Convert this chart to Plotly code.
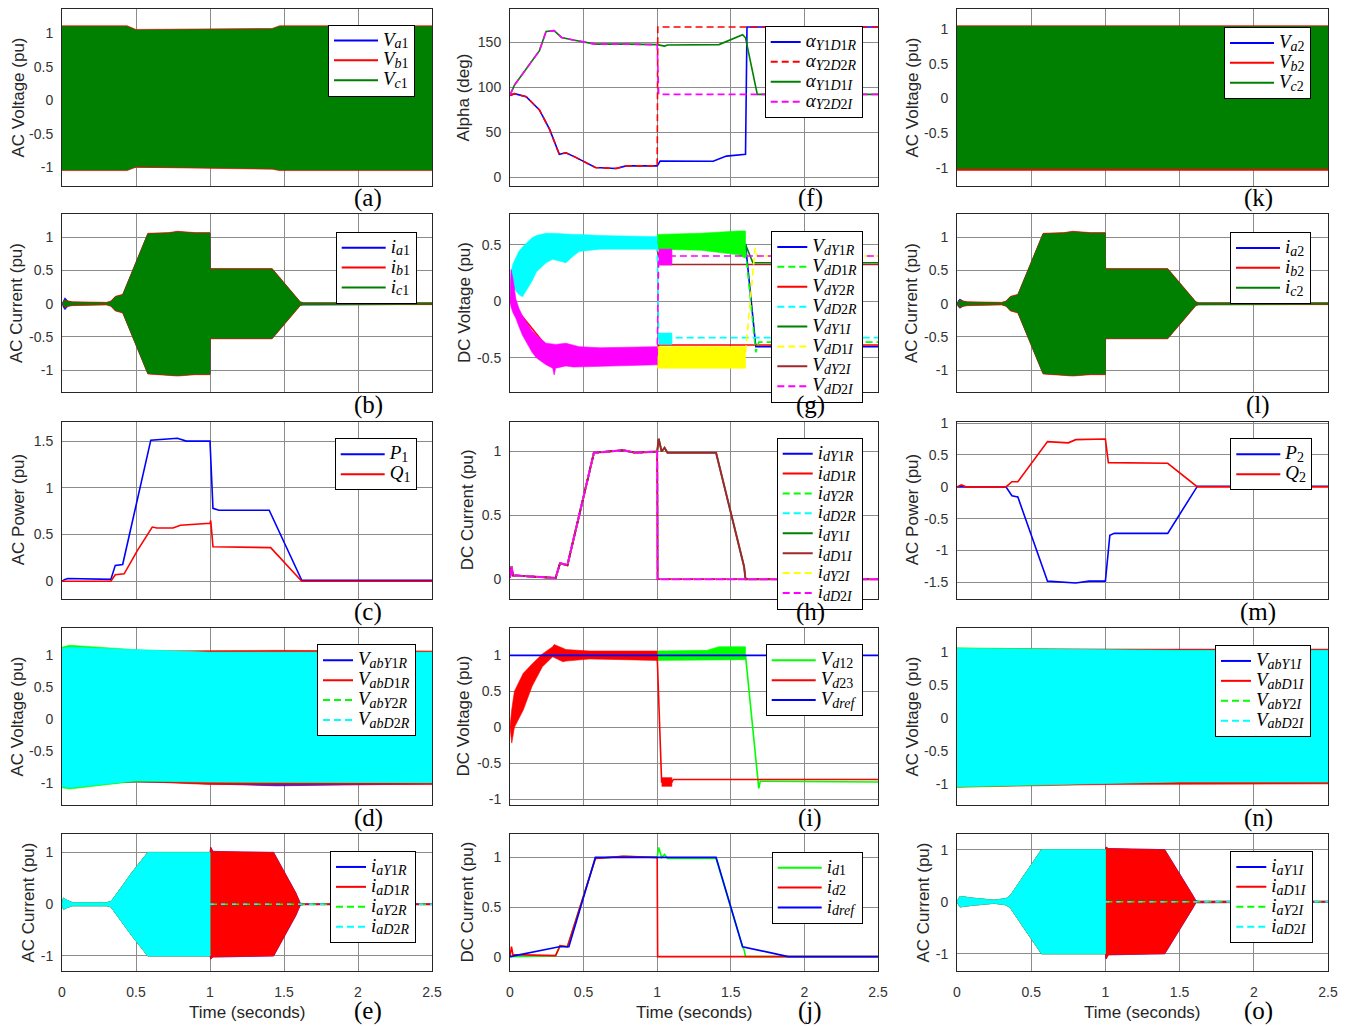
import plotly.graph_objects as go

W, H = 1350, 1026

# ======================= DATA =======================
X_TICKS = [0, 0.5, 1, 1.5, 2, 2.5]
X_TICK_TEXT = ["0", "0.5", "1", "1.5", "2", "2.5"]

# ---- (a) AC voltage bus 1 : envelopes of the fast sinusoids
T_V1 = [0, 0.44, 0.50, 1.00, 1.42, 1.47, 2.50]
VA1_UP = [1.08, 1.08, 1.03, 1.04, 1.05, 1.08, 1.08]
VA1_LO = [-1.02, -1.02, -0.97, -0.99, -1.00, -1.02, -1.02]
VB1_UP = [1.11, 1.11, 1.055, 1.06, 1.07, 1.11, 1.11]
VB1_LO = [-1.05, -1.05, -1.00, -1.02, -1.03, -1.05, -1.05]
VC1_UP = [1.10, 1.10, 1.045, 1.05, 1.06, 1.10, 1.10]
VC1_LO = [-1.04, -1.04, -0.99, -1.01, -1.02, -1.04, -1.04]

# ---- (k) AC voltage bus 2
T_V2 = [0, 1.00, 2.50]
VA2_UP = [1.03, 1.03, 1.03]
VA2_LO = [-1.00, -1.00, -1.00]
VB2_UP = [1.05, 1.05, 1.05]
VB2_LO = [-1.035, -1.035, -1.035]
VC2_UP = [1.04, 1.04, 1.04]
VC2_LO = [-1.01, -1.01, -1.01]

# ---- (b) AC current bus 1
T_I1 = [0, 0.01, 0.02, 0.04, 0.07, 0.30, 0.33, 0.36, 0.41, 0.58, 0.72, 0.78, 0.90, 1.00, 1.001, 1.42, 1.61, 1.63, 2.50]
IA1_UP = [0, 0.06, 0.09, 0.04, 0.02, 0.01, 0.03, 0.10, 0.13, 1.05, 1.06, 1.08, 1.06, 1.06, 0.52, 0.52, 0.02, 0.01, 0.01]
IA1_LO = [0, -0.06, -0.09, -0.04, -0.02, -0.01, -0.03, -0.10, -0.13, -1.05, -1.07, -1.08, -1.06, -1.06, -0.52, -0.52, -0.02, -0.01, -0.01]
IB1_UP = [0, 0.04, 0.06, 0.04, 0.03, 0.02, 0.04, 0.11, 0.14, 1.06, 1.07, 1.09, 1.07, 1.07, 0.53, 0.53, 0.03, 0.015, 0.015]
IB1_LO = [0, -0.04, -0.06, -0.04, -0.03, -0.02, -0.04, -0.11, -0.14, -1.06, -1.08, -1.09, -1.07, -1.07, -0.53, -0.53, -0.03, -0.015, -0.015]
IC1_UP = [0, 0.03, 0.05, 0.03, 0.02, 0.01, 0.03, 0.10, 0.13, 1.05, 1.06, 1.08, 1.06, 1.06, 0.52, 0.52, 0.02, 0.01, 0.01]
IC1_LO = [0, -0.03, -0.05, -0.03, -0.02, -0.01, -0.03, -0.10, -0.13, -1.05, -1.07, -1.08, -1.06, -1.06, -0.52, -0.52, -0.02, -0.01, -0.01]

# ---- (l) AC current bus 2
T_I2 = [0, 0.01, 0.02, 0.04, 0.07, 0.30, 0.33, 0.36, 0.41, 0.58, 0.72, 0.78, 0.90, 1.00, 1.001, 1.42, 1.61, 1.63, 2.50]
IA2_UP = [0, 0.05, 0.07, 0.04, 0.02, 0.01, 0.03, 0.10, 0.13, 1.05, 1.06, 1.08, 1.06, 1.06, 0.52, 0.52, 0.02, 0.01, 0.01]
IA2_LO = [0, -0.05, -0.07, -0.04, -0.02, -0.01, -0.03, -0.10, -0.13, -1.05, -1.07, -1.08, -1.06, -1.06, -0.52, -0.52, -0.02, -0.01, -0.01]
IB2_UP = [0, 0.04, 0.06, 0.04, 0.03, 0.02, 0.04, 0.11, 0.14, 1.06, 1.07, 1.09, 1.07, 1.07, 0.53, 0.53, 0.03, 0.015, 0.015]
IB2_LO = [0, -0.04, -0.06, -0.04, -0.03, -0.02, -0.04, -0.11, -0.14, -1.06, -1.08, -1.09, -1.07, -1.07, -0.53, -0.53, -0.03, -0.015, -0.015]
IC2_UP = [0, 0.03, 0.05, 0.03, 0.02, 0.01, 0.03, 0.10, 0.13, 1.05, 1.06, 1.08, 1.06, 1.06, 0.52, 0.52, 0.02, 0.01, 0.01]
IC2_LO = [0, -0.03, -0.05, -0.03, -0.02, -0.01, -0.03, -0.10, -0.13, -1.05, -1.07, -1.08, -1.06, -1.06, -0.52, -0.52, -0.02, -0.01, -0.01]

# ---- (c) AC power bus 1
T_P1 = [0, 0.02, 0.04, 0.33, 0.36, 0.41, 0.60, 0.78, 0.84, 1.00, 1.02, 1.06, 1.40, 1.62, 2.50]
P1 = [0, 0.02, 0.03, 0.02, 0.17, 0.18, 1.51, 1.53, 1.50, 1.50, 0.78, 0.76, 0.76, 0.01, 0.01]
T_Q1 = [0, 0.33, 0.36, 0.42, 0.51, 0.61, 0.64, 0.75, 0.80, 1.00, 1.005, 1.02, 1.41, 1.62, 2.50]
Q1 = [0, 0, 0.07, 0.08, 0.33, 0.58, 0.57, 0.57, 0.60, 0.62, 0.65, 0.37, 0.36, 0.0, 0.0]

# ---- (m) AC power bus 2
T_P2 = [0, 0.33, 0.37, 0.41, 0.61, 0.80, 0.89, 1.00, 1.03, 1.06, 1.42, 1.62, 2.50]
P2 = [0, 0, -0.14, -0.16, -1.48, -1.51, -1.48, -1.48, -0.76, -0.73, -0.73, 0.01, 0.01]
T_Q2 = [0, 0.03, 0.06, 0.33, 0.37, 0.41, 0.61, 0.75, 0.80, 1.00, 1.02, 1.42, 1.62, 2.50]
Q2 = [0, 0.03, 0, 0, 0.08, 0.08, 0.71, 0.69, 0.74, 0.75, 0.38, 0.37, 0, 0]

# ---- (d) converter AC voltages, rectifier side
T_VAB_R = [0, 0.05, 0.50, 1.00, 1.45, 2.50]
VABY1R_UP = [1.06, 1.08, 1.05, 1.05, 1.05, 1.05]
VABY1R_LO = [-1.02, -1.06, -0.98, -1.02, -1.05, -1.02]
VABD1R_UP = [1.05, 1.09, 1.06, 1.07, 1.07, 1.06]
VABD1R_LO = [-1.00, -1.05, -0.98, -1.03, -1.03, -1.03]
VABY2R_UP = [1.12, 1.15, 1.08, 1.04, 1.04, 1.04]
VABY2R_LO = [-1.08, -1.10, -0.98, -0.99, -1.00, -1.00]
VABD2R_UP = [1.10, 1.12, 1.08, 1.04, 1.04, 1.04]
VABD2R_LO = [-1.06, -1.08, -0.97, -0.99, -1.00, -1.00]

# ---- (n) converter AC voltages, inverter side
T_VAB_I = [0, 0.50, 1.00, 1.50, 2.50]
VABY1I_UP = [1.04, 1.04, 1.03, 1.03, 1.03]
VABY1I_LO = [-1.03, -1.02, -1.00, -0.98, -0.98]
VABD1I_UP = [1.05, 1.04, 1.04, 1.04, 1.04]
VABD1I_LO = [-1.05, -1.03, -1.01, -1.00, -1.00]
VABY2I_UP = [1.06, 1.04, 1.03, 1.02, 1.02]
VABY2I_LO = [-1.05, -1.02, -0.99, -0.97, -0.97]
VABD2I_UP = [1.05, 1.04, 1.03, 1.02, 1.02]
VABD2I_LO = [-1.04, -1.02, -0.99, -0.97, -0.97]

# ---- (e) converter AC currents, rectifier side
T_IAR = [0, 0.01, 0.03, 0.07, 0.30, 0.33, 0.36, 0.47, 0.58, 1.00]
IAR_UP = [0, 0.12, 0.08, 0.03, 0.03, 0.05, 0.16, 0.60, 1.00, 1.00]
IAR_LO = [0, -0.10, -0.07, -0.03, -0.03, -0.05, -0.16, -0.60, -1.00, -1.00]
T_IAR_POST = [1.005, 1.02, 1.43, 1.58, 1.61, 1.63, 2.50]
IAR_POST_UP = [1.10, 1.02, 1.00, 0.22, 0.02, 0.01, 0.01]
IAR_POST_LO = [-1.06, -1.02, -1.00, -0.22, -0.02, -0.01, -0.01]
T_IAR_ZERO = [1.00, 2.50]
IAR_ZERO = [0, 0]

# ---- (o) converter AC currents, inverter side
T_IAI = [0, 0.02, 0.05, 0.10, 0.25, 0.33, 0.36, 0.45, 0.57, 1.00]
IAI_UP = [0, 0.10, 0.09, 0.07, 0.03, 0.06, 0.12, 0.50, 1.00, 1.00]
IAI_LO = [0, -0.10, -0.09, -0.07, -0.03, -0.06, -0.12, -0.50, -1.00, -1.00]
T_IAI_POST = [1.005, 1.02, 1.40, 1.59, 1.61, 1.63, 2.50]
IAI_POST_UP = [1.05, 1.02, 1.00, 0.12, 0.02, 0.01, 0.01]
IAI_POST_LO = [-1.10, -1.02, -1.00, -0.12, -0.02, -0.01, -0.01]
T_IAI_ZERO = [1.00, 2.50]
IAI_ZERO = [0, 0]

# ---- (f) firing angles (deg)
T_AR = [0, 0.03, 0.11, 0.20, 0.27, 0.335, 0.38, 0.45, 0.58, 0.72, 0.79, 1.00]
AR_PRE = [91, 93, 89.6, 75, 53, 25.6, 27.4, 22, 11, 10, 12.8, 12.8]
T_ALPHA_Y1D1R = T_AR + [1.02, 1.38, 1.47, 1.60, 1.61, 2.50]
ALPHA_Y1D1R = AR_PRE + [18.2, 18, 23.7, 25.6, 167, 167]
T_ALPHA_Y2D2R = T_AR + [1.004, 2.50]
ALPHA_Y2D2R = AR_PRE + [167, 167]
T_AI = [0, 0.03, 0.20, 0.245, 0.30, 0.35, 0.43, 0.58, 0.79, 1.00]
AI_PRE = [91.3, 102.4, 140.8, 162, 163, 155.4, 152.5, 148, 148, 147.4]
T_ALPHA_Y1D1I = T_AI + [1.05, 1.07, 1.42, 1.58, 1.60, 1.68, 2.50]
ALPHA_Y1D1I = AI_PRE + [145.8, 147, 147.5, 158.4, 155, 92.2, 92.2]
T_ALPHA_Y2D2I = T_AI + [1.01, 2.50]
ALPHA_Y2D2I = AI_PRE + [92.2, 92.2]

# ---- (g) converter DC voltages
T_VDY1R = [0, 0.10, 0.30, 1.00, 1.60, 1.67, 2.50]
VDY1R = [0, 0.45, 0.50, 0.52, 0.50, -0.40, -0.40]
T_VDY2R = [0, 0.30, 1.00, 1.01, 2.50]
VDY2R = [0, -0.48, -0.48, -0.385, -0.385]
T_VDY1I = [1.00, 1.60, 1.65, 2.50]
VDY1I = [0.50, 0.50, 0.34, 0.34]
T_VDY2I = [1.00, 1.03, 2.50]
VDY2I = [0.45, 0.325, 0.325]
T_VDD1R_BAND = [1.00, 1.30, 1.55, 1.60]
VDD1R_UP = [0.59, 0.60, 0.62, 0.62]
VDD1R_LO = [0.46, 0.45, 0.41, 0.38]
T_VDD1R_LINE = [1.60, 1.66, 1.67, 1.69, 2.50]
VDD1R_LINE = [0.45, -0.38, -0.45, -0.36, -0.36]
T_VDD2R_BAND = [0, 0.007, 0.02, 0.04, 0.06, 0.085, 0.15, 0.18, 0.245, 0.29, 0.38, 0.43, 0.47, 0.61, 1.00]
VDD2R_UP = [0, 0.26, 0.33, 0.38, 0.44, 0.48, 0.56, 0.58, 0.60, 0.60, 0.59, 0.59, 0.59, 0.58, 0.57]
VDD2R_LO = [0, 0.20, 0.15, 0.09, 0.06, 0.04, 0.18, 0.26, 0.34, 0.37, 0.34, 0.40, 0.44, 0.46, 0.46]
T_VDD2R_BLK = [1.01, 1.10]
VDD2R_BLK_UP = [-0.28, -0.28]
VDD2R_BLK_LO = [-0.38, -0.38]
T_VDD2R_LINE = [1.00, 1.01, 1.10, 2.50]
VDD2R_LINE = [0.50, -0.32, -0.32, -0.32]
T_VDD1I_BAND = [1.00, 1.60]
VDD1I_UP = [-0.40, -0.40]
VDD1I_LO = [-0.59, -0.59]
T_VDD1I_LINE = [1.60, 1.665, 1.68, 2.50]
VDD1I_LINE = [-0.45, 0.47, 0.40, 0.40]
T_VDD2I_BAND = [0, 0.007, 0.02, 0.04, 0.06, 0.085, 0.15, 0.18, 0.245, 0.29, 0.30, 0.31, 0.38, 0.43, 0.47, 0.61, 1.00]
VDD2I_UP = [0, 0.28, 0.20, 0.02, -0.06, -0.13, -0.26, -0.30, -0.37, -0.38, -0.38, -0.38, -0.37, -0.39, -0.40, -0.41, -0.40]
VDD2I_LO = [0, -0.05, -0.10, -0.15, -0.22, -0.30, -0.45, -0.50, -0.56, -0.59, -0.65, -0.59, -0.57, -0.58, -0.58, -0.57, -0.56]
T_VDD2I_BLK = [1.01, 1.10]
VDD2I_BLK_UP = [0.46, 0.46]
VDD2I_BLK_LO = [0.32, 0.32]
T_VDD2I_LINE = [1.00, 1.01, 1.10, 2.50]
VDD2I_LINE = [-0.48, 0.40, 0.40, 0.40]

# ---- (h) converter DC currents
T_ID_STOP = [0, 0.01, 0.02, 0.31, 0.34, 0.39, 0.57, 0.77, 0.85, 1.00, 1.003, 2.50]
ID_STOP = [0.01, 0.10, 0.03, 0.01, 0.125, 0.11, 0.99, 1.01, 0.99, 1.00, 0.0, 0.0]
T_ID_RUN = [0, 0.01, 0.02, 0.31, 0.34, 0.39, 0.57, 0.77, 0.85, 1.00, 1.01, 1.03, 1.05, 1.07, 1.40, 1.58, 1.59, 1.60, 2.50]
ID_RUN = [0.01, 0.10, 0.03, 0.01, 0.125, 0.11, 0.99, 1.01, 0.99, 1.00, 1.10, 1.00, 1.03, 0.99, 0.99, 0.15, 0.10, 0.0, 0.0]

# ---- (i) DC line voltages
T_VD23_BAND = [0, 0.005, 0.012, 0.03, 0.09, 0.15, 0.22, 0.29, 0.30, 0.36, 0.38, 0.54, 0.65, 1.00]
VD23_UP = [0, 0.14, 0.25, 0.50, 0.75, 0.88, 1.02, 1.12, 1.15, 1.10, 1.08, 1.06, 1.06, 1.06]
VD23_LO = [0, -0.10, -0.22, 0.00, 0.24, 0.57, 0.84, 0.98, 0.97, 0.91, 0.92, 0.95, 0.94, 0.93]
T_VD23_BLK = [1.03, 1.10]
VD23_BLK_UP = [-0.70, -0.70]
VD23_BLK_LO = [-0.82, -0.82]
T_VD23_LINE = [1.00, 1.03, 1.10, 1.11, 2.50]
VD23_LINE = [0.99, -0.76, -0.76, -0.725, -0.725]
T_VD12_BAND = [1.00, 1.34, 1.42, 1.60]
VD12_UP = [1.06, 1.07, 1.12, 1.12]
VD12_LO = [0.93, 0.94, 0.94, 0.94]
T_VD12_LINE = [1.60, 1.68, 1.69, 1.70, 2.50]
VD12_LINE = [1.00, -0.73, -0.85, -0.75, -0.76]
T_VDREF = [0, 2.50]
VDREF = [1.0, 1.0]

# ---- (j) DC line currents
T_ID1 = [0, 0.31, 0.34, 0.39, 0.58, 0.77, 1.00, 1.01, 1.03, 1.05, 1.07, 1.40, 1.58, 1.59, 1.60, 2.50]
ID1 = [0, 0.01, 0.11, 0.10, 0.99, 1.01, 1.00, 1.10, 1.00, 1.03, 0.99, 0.99, 0.10, 0.07, 0.0, 0.0]
T_ID2 = [0, 0.01, 0.02, 0.31, 0.34, 0.39, 0.58, 0.77, 1.00, 1.003, 2.50]
ID2 = [0, 0.10, 0.02, 0.01, 0.11, 0.10, 0.99, 1.01, 1.00, 0.0, 0.0]
T_IDREF = [0, 0.335, 0.40, 0.58, 1.40, 1.58, 1.89, 2.50]
IDREF = [0, 0.10, 0.10, 1.00, 1.00, 0.10, 0.0, 0.0]

# ---- axis text
Y_TITLES = ["AC Voltage (pu)", "AC Current (pu)", "AC Power (pu)", "AC Voltage (pu)", "AC Current (pu)",
            "Alpha (deg)", "DC Voltage (pu)", "DC Current (pu)", "DC Voltage (pu)", "DC Current (pu)",
            "AC Voltage (pu)", "AC Current (pu)", "AC Power (pu)", "AC Voltage (pu)", "AC Current (pu)"]
PANEL_TAGS = ["(a)", "(b)", "(c)", "(d)", "(e)", "(f)", "(g)", "(h)", "(i)", "(j)",
              "(k)", "(l)", "(m)", "(n)", "(o)"]
Y_TICKS = [[-1, -0.5, 0, 0.5, 1], [-1, -0.5, 0, 0.5, 1], [0, 0.5, 1, 1.5], [-1, -0.5, 0, 0.5, 1], [-1, 0, 1],
           [0, 50, 100, 150], [-0.5, 0, 0.5], [0, 0.5, 1], [-1, -0.5, 0, 0.5, 1], [0, 0.5, 1],
           [-1, -0.5, 0, 0.5, 1], [-1, -0.5, 0, 0.5, 1], [-1.5, -1, -0.5, 0, 0.5, 1], [-1, -0.5, 0, 0.5, 1], [-1, 0, 1]]
Y_RANGES = [[-1.28, 1.36], [-1.33, 1.35], [-0.19, 1.71], [-1.35, 1.42], [-1.29, 1.356],
            [-9.5, 187], [-0.8, 0.77], [-0.155, 1.235], [-1.08, 1.38], [-0.145, 1.236],
            [-1.26, 1.29], [-1.33, 1.35], [-1.76, 1.025], [-1.32, 1.36], [-1.33, 1.30]]

# ======================= LAYOUT GEOMETRY (pixels) =======================
COL_X = [(62, 432), (510, 878), (957, 1328)]
ROW_Y = [(9, 186), (214, 392), (421.5, 599), (628, 805), (834, 971)]
YTITLE_X = [18, 17, 18, 17, 28, 463, 465, 467, 463, 467, 912, 912, 912, 912, 923]
TAG_X = [368, 810, 1258]
TAG_Y = [198, 405, 612, 818, 1011]
LEG_POS = [(415, 24.5), (416.7, 231.7), (416.7, 438.3), (416, 644.3), (416, 851),
           (862.7, 26), (863.3, 231), (862.7, 437.7), (862.7, 644.3), (862.7, 851.7),
           (1311, 27), (1311, 232), (1312.3, 438.3), (1311, 645), (1313.3, 851)]
LEG_ITEMW = [44, 44, 44, 30, 30, 30, 30, 30, 44, 44, 44, 44, 44, 30, 30]

BLUE, RED, GREEN, DKGREEN = "#0000ff", "#ff0000", "#00ff00", "#008000"
CYAN, MAGENTA, YELLOW, DKRED = "#00ffff", "#ff00ff", "#ffff00", "#a0282d"
DASH = "7px,4px"
LW = 1.6

fig = go.Figure()


def ids(k):
    return ("x" if k == 1 else f"x{k}"), ("y" if k == 1 else f"y{k}")


def band(k, t, up, lo, color):
    xa, ya = ids(k)
    fig.add_trace(go.Scatter(x=list(t) + list(t)[::-1], y=list(up) + list(lo)[::-1],
                             mode="lines", fill="toself", fillcolor=color,
                             line=dict(color=color, width=0.6),
                             xaxis=xa, yaxis=ya, showlegend=False, hoverinfo="skip"))


def line(k, t, y, color, dash="solid", width=LW):
    xa, ya = ids(k)
    fig.add_trace(go.Scatter(x=t, y=y, mode="lines", line=dict(color=color, width=width, dash=dash),
                             xaxis=xa, yaxis=ya, showlegend=False, hoverinfo="skip"))


def sub(s):
    out = ""
    for ch in s:
        out += ch if ch.isdigit() else f"<i>{ch}</i>"
    return out


def lab(base, s):
    return (f"<span style='font-size:19px'><i>{base}</i></span>"
            f"<sub><span style='font-size:14px'>{sub(s)}</span></sub>")


def entry(k, name, color, dash="solid"):
    xa, ya = ids(k)
    fig.add_trace(go.Scatter(x=[None], y=[None], mode="lines", name=name,
                             line=dict(color=color, width=2, dash=dash),
                             xaxis=xa, yaxis=ya, legend=("legend" if k == 1 else f"legend{k}")))


def tick_text(vals):
    return [("%g" % v) for v in vals]


# ---------------- (a) ----------------
band(1, T_V1, VA1_UP, VA1_LO, BLUE)
band(1, T_V1, VB1_UP, VB1_LO, RED)
band(1, T_V1, VC1_UP, VC1_LO, DKGREEN)
entry(1, lab("V", "a1"), BLUE); entry(1, lab("V", "b1"), RED); entry(1, lab("V", "c1"), DKGREEN)

# ---------------- (b) ----------------
band(2, T_I1, IA1_UP, IA1_LO, BLUE)
band(2, T_I1, IB1_UP, IB1_LO, RED)
band(2, T_I1, IC1_UP, IC1_LO, DKGREEN)
entry(2, lab("i", "a1"), BLUE); entry(2, lab("i", "b1"), RED); entry(2, lab("i", "c1"), DKGREEN)

# ---------------- (c) ----------------
line(3, T_P1, P1, BLUE)
line(3, T_Q1, Q1, RED)
entry(3, lab("P", "1"), BLUE); entry(3, lab("Q", "1"), RED)

# ---------------- (d) ----------------
band(4, T_VAB_R, VABY1R_UP, VABY1R_LO, BLUE)
band(4, T_VAB_R, VABD1R_UP, VABD1R_LO, RED)
band(4, T_VAB_R, VABY2R_UP, VABY2R_LO, GREEN)
band(4, T_VAB_R, VABD2R_UP, VABD2R_LO, CYAN)
entry(4, lab("V", "abY1R"), BLUE); entry(4, lab("V", "abD1R"), RED)
entry(4, lab("V", "abY2R"), GREEN, DASH); entry(4, lab("V", "abD2R"), CYAN, DASH)

# ---------------- (e) ----------------
band(5, T_IAR + T_IAR_POST, IAR_UP + IAR_POST_UP, IAR_LO + IAR_POST_LO, BLUE)
band(5, T_IAR + T_IAR_POST, IAR_UP + IAR_POST_UP, IAR_LO + IAR_POST_LO, RED)
band(5, T_IAR, IAR_UP, IAR_LO, GREEN)
band(5, T_IAR, IAR_UP, IAR_LO, CYAN)
line(5, T_IAR_ZERO, IAR_ZERO, GREEN, DASH)
line(5, T_IAR_ZERO, IAR_ZERO, CYAN, "4px,7px")
entry(5, lab("i", "aY1R"), BLUE); entry(5, lab("i", "aD1R"), RED)
entry(5, lab("i", "aY2R"), GREEN, DASH); entry(5, lab("i", "aD2R"), CYAN, DASH)

# ---------------- (f) ----------------
line(6, T_ALPHA_Y1D1R, ALPHA_Y1D1R, BLUE)
line(6, T_ALPHA_Y2D2R, ALPHA_Y2D2R, RED, DASH)
line(6, T_ALPHA_Y1D1I, ALPHA_Y1D1I, DKGREEN)
line(6, T_ALPHA_Y2D2I, ALPHA_Y2D2I, MAGENTA, DASH)
entry(6, lab("α", "Y1D1R"), BLUE); entry(6, lab("α", "Y2D2R"), RED, DASH)
entry(6, lab("α", "Y1D1I"), DKGREEN); entry(6, lab("α", "Y2D2I"), MAGENTA, DASH)

# ---------------- (g) ----------------
line(7, T_VDY1R, VDY1R, BLUE)
line(7, T_VDY2R, VDY2R, RED)
line(7, T_VDY1I, VDY1I, DKGREEN)
line(7, T_VDY2I, VDY2I, DKRED)
band(7, T_VDD1R_BAND, VDD1R_UP, VDD1R_LO, GREEN)
line(7, T_VDD1R_LINE, VDD1R_LINE, GREEN, DASH)
band(7, T_VDD2R_BAND, VDD2R_UP, VDD2R_LO, CYAN)
band(7, T_VDD2R_BLK, VDD2R_BLK_UP, VDD2R_BLK_LO, CYAN)
line(7, T_VDD2R_LINE, VDD2R_LINE, CYAN, DASH)
band(7, T_VDD1I_BAND, VDD1I_UP, VDD1I_LO, YELLOW)
line(7, T_VDD1I_LINE, VDD1I_LINE, YELLOW, DASH)
band(7, T_VDD2I_BAND, VDD2I_UP, VDD2I_LO, MAGENTA)
band(7, T_VDD2I_BLK, VDD2I_BLK_UP, VDD2I_BLK_LO, MAGENTA)
line(7, T_VDD2I_LINE, VDD2I_LINE, MAGENTA, DASH)
entry(7, lab("V", "dY1R"), BLUE); entry(7, lab("V", "dD1R"), GREEN, DASH)
entry(7, lab("V", "dY2R"), RED); entry(7, lab("V", "dD2R"), CYAN, DASH)
entry(7, lab("V", "dY1I"), DKGREEN); entry(7, lab("V", "dD1I"), YELLOW, DASH)
entry(7, lab("V", "dY2I"), DKRED); entry(7, lab("V", "dD2I"), MAGENTA, DASH)

# ---------------- (h) ----------------
line(8, T_ID_STOP, ID_STOP, BLUE)
line(8, T_ID_STOP, ID_STOP, RED)
line(8, T_ID_STOP, ID_STOP, GREEN, DASH)
line(8, T_ID_STOP, ID_STOP, CYAN, DASH)
line(8, T_ID_RUN, ID_RUN, DKGREEN)
line(8, T_ID_RUN, ID_RUN, DKRED, width=2)
line(8, T_ID_STOP, ID_STOP, YELLOW, DASH)
line(8, T_ID_STOP, ID_STOP, MAGENTA, "9px,2px", width=2)
entry(8, lab("i", "dY1R"), BLUE); entry(8, lab("i", "dD1R"), RED)
entry(8, lab("i", "dY2R"), GREEN, DASH); entry(8, lab("i", "dD2R"), CYAN, DASH)
entry(8, lab("i", "dY1I"), DKGREEN); entry(8, lab("i", "dD1I"), DKRED)
entry(8, lab("i", "dY2I"), YELLOW, DASH); entry(8, lab("i", "dD2I"), MAGENTA, DASH)

# ---------------- (i) ----------------
band(9, T_VD12_BAND, VD12_UP, VD12_LO, GREEN)
line(9, T_VD12_LINE, VD12_LINE, GREEN)
band(9, T_VD23_BAND, VD23_UP, VD23_LO, RED)
band(9, T_VD23_BLK, VD23_BLK_UP, VD23_BLK_LO, RED)
line(9, T_VD23_LINE, VD23_LINE, RED)
line(9, T_VDREF, VDREF, BLUE)
entry(9, lab("V", "d12"), GREEN); entry(9, lab("V", "d23"), RED); entry(9, lab("V", "dref"), BLUE)

# ---------------- (j) ----------------
line(10, T_ID1, ID1, GREEN)
line(10, T_ID2, ID2, RED)
line(10, T_IDREF, IDREF, BLUE)
entry(10, lab("i", "d1"), GREEN); entry(10, lab("i", "d2"), RED); entry(10, lab("i", "dref"), BLUE)

# ---------------- (k) ----------------
band(11, T_V2, VA2_UP, VA2_LO, BLUE)
band(11, T_V2, VB2_UP, VB2_LO, RED)
band(11, T_V2, VC2_UP, VC2_LO, DKGREEN)
entry(11, lab("V", "a2"), BLUE); entry(11, lab("V", "b2"), RED); entry(11, lab("V", "c2"), DKGREEN)

# ---------------- (l) ----------------
band(12, T_I2, IA2_UP, IA2_LO, BLUE)
band(12, T_I2, IB2_UP, IB2_LO, RED)
band(12, T_I2, IC2_UP, IC2_LO, DKGREEN)
entry(12, lab("i", "a2"), BLUE); entry(12, lab("i", "b2"), RED); entry(12, lab("i", "c2"), DKGREEN)

# ---------------- (m) ----------------
line(13, T_P2, P2, BLUE)
line(13, T_Q2, Q2, RED)
entry(13, lab("P", "2"), BLUE); entry(13, lab("Q", "2"), RED)

# ---------------- (n) ----------------
band(14, T_VAB_I, VABY1I_UP, VABY1I_LO, BLUE)
band(14, T_VAB_I, VABD1I_UP, VABD1I_LO, RED)
band(14, T_VAB_I, VABY2I_UP, VABY2I_LO, GREEN)
band(14, T_VAB_I, VABD2I_UP, VABD2I_LO, CYAN)
entry(14, lab("V", "abY1I"), BLUE); entry(14, lab("V", "abD1I"), RED)
entry(14, lab("V", "abY2I"), GREEN, DASH); entry(14, lab("V", "abD2I"), CYAN, DASH)

# ---------------- (o) ----------------
band(15, T_IAI + T_IAI_POST, IAI_UP + IAI_POST_UP, IAI_LO + IAI_POST_LO, BLUE)
band(15, T_IAI + T_IAI_POST, IAI_UP + IAI_POST_UP, IAI_LO + IAI_POST_LO, RED)
band(15, T_IAI, IAI_UP, IAI_LO, GREEN)
band(15, T_IAI, IAI_UP, IAI_LO, CYAN)
line(15, T_IAI_ZERO, IAI_ZERO, GREEN, DASH)
line(15, T_IAI_ZERO, IAI_ZERO, CYAN, "4px,7px")
entry(15, lab("i", "aY1I"), BLUE); entry(15, lab("i", "aD1I"), RED)
entry(15, lab("i", "aY2I"), GREEN, DASH); entry(15, lab("i", "aD2I"), CYAN, DASH)

# ======================= AXES / LEGENDS / LABELS =======================
layout = dict(template="none", width=W, height=H, autosize=False, margin=dict(l=0, r=0, t=0, b=0, pad=0),
              paper_bgcolor="white", plot_bgcolor="white", showlegend=True,
              font=dict(family="Liberation Sans, Arial, sans-serif", color="#262626"))
annotations = []
TICK_FONT = dict(family="Liberation Sans, Arial, sans-serif", size=14, color="#333333")

for k in range(1, 16):
    col, row = (k - 1) // 5, (k - 1) % 5
    xl, xr = COL_X[col]
    yt, yb = ROW_Y[row]
    xkey = "xaxis" if k == 1 else f"xaxis{k}"
    ykey = "yaxis" if k == 1 else f"yaxis{k}"
    xa, ya = ids(k)
    layout[xkey] = dict(domain=[xl / W, xr / W], range=[0, 2.5], anchor=ya, automargin=False,
                        tickvals=X_TICKS, ticktext=X_TICK_TEXT, showticklabels=(row == 4),
                        tickfont=TICK_FONT, ticks="", ticklabelstandoff=8,
                        showgrid=True, gridcolor="#8c8c8c", gridwidth=1, zeroline=False,
                        showline=True, mirror=True, linecolor="#262626", linewidth=1)
    layout[ykey] = dict(domain=[1 - yb / H, 1 - yt / H], range=Y_RANGES[k - 1], anchor=xa, automargin=False,
                        tickvals=Y_TICKS[k - 1], ticktext=tick_text(Y_TICKS[k - 1]),
                        tickfont=TICK_FONT, ticks="", ticklabelstandoff=5,
                        showgrid=True, gridcolor="#8c8c8c", gridwidth=1, zeroline=False,
                        showline=True, mirror=True, linecolor="#262626", linewidth=1)
    lx, ly = LEG_POS[k - 1]
    lkey = "legend" if k == 1 else f"legend{k}"
    layout[lkey] = dict(x=lx / W, y=1 - ly / H, xanchor="right", yanchor="top",
                        bgcolor="white", bordercolor="black", borderwidth=1,
                        font=dict(family="Liberation Serif, serif", size=13, color="black"),
                        tracegroupgap=0, itemwidth=LEG_ITEMW[k - 1])
    annotations.append(dict(text=Y_TITLES[k - 1], x=YTITLE_X[k - 1] / W, y=1 - ((yt + yb) / 2) / H,
                            xref="paper", yref="paper", textangle=-90, showarrow=False,
                            xanchor="center", yanchor="middle",
                            font=dict(family="Liberation Sans, Arial, sans-serif", size=17, color="#262626")))
    annotations.append(dict(text=PANEL_TAGS[k - 1], x=TAG_X[col] / W, y=1 - TAG_Y[row] / H,
                            xref="paper", yref="paper", showarrow=False,
                            xanchor="center", yanchor="middle",
                            font=dict(family="Liberation Serif, Times New Roman, serif", size=25, color="black")))
    if row == 4:
        annotations.append(dict(text="Time (seconds)", x=((xl + xr) / 2) / W, y=1 - 1012 / H,
                                xref="paper", yref="paper", showarrow=False,
                                xanchor="center", yanchor="middle",
                                font=dict(family="Liberation Sans, Arial, sans-serif", size=17, color="#262626")))

layout["annotations"] = annotations
fig.update_layout(**layout)
fig.write_html("out.html", config={"displayModeBar": False},
               post_script="document.body.style.margin='0px';document.body.style.padding='0px';"
                           "document.body.style.overflow='hidden';")
